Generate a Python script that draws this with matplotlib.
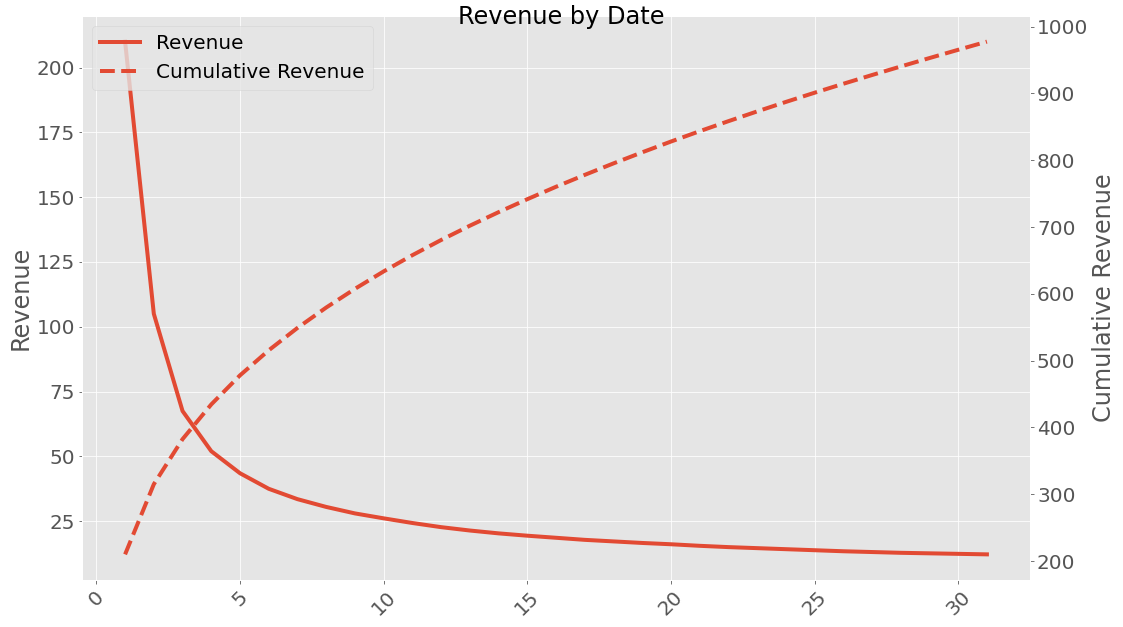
import numpy as np
import matplotlib
matplotlib.use("Agg")
import matplotlib.pyplot as plt

plt.style.use("ggplot")

days = list(range(1, 32))
revenue = [210, 105, 67.5, 52, 43.5, 37.5, 33.5, 30.5, 28.0, 26.1,
           24.3, 22.7, 21.4, 20.3, 19.4, 18.6, 17.8, 17.2, 16.6, 16.1,
           15.5, 15.0, 14.6, 14.2, 13.8, 13.4, 13.1, 12.8, 12.6, 12.4, 12.2]
cumulative_revenue = np.cumsum(revenue)

W, H = 1123, 627
DPI = 72
fig = plt.figure(figsize=(W / DPI, H / DPI), dpi=DPI)
ax = fig.add_axes([82 / W, (H - 580) / H, (1030 - 82) / W, (580 - 16) / H])
color = "#E24A33"

l1, = ax.plot(days, revenue, color=color, lw=4, label="Revenue")
ax.set_ylabel("Revenue", fontsize=24)
ax.tick_params(axis="both", labelsize=20)
ax.set_xticks([0, 5, 10, 15, 20, 25, 30])
for lab in ax.get_xticklabels():
    lab.set_rotation(45)

ax2 = ax.twinx()
l2, = ax2.plot(days, cumulative_revenue, color=color, lw=4, ls="--",
               label="Cumulative Revenue")
ax2.grid(False)
ax2.set_ylabel("Cumulative Revenue", fontsize=24)
ax2.tick_params(axis="y", labelsize=20)

ax2.legend(handles=[l1, l2], loc="upper left", fontsize=20)
fig.text(0.5, 1 - 17 / H, "Revenue by Date", ha="center", va="center",
         fontsize=24, color="black")

fig.savefig("out.png", dpi=DPI)
